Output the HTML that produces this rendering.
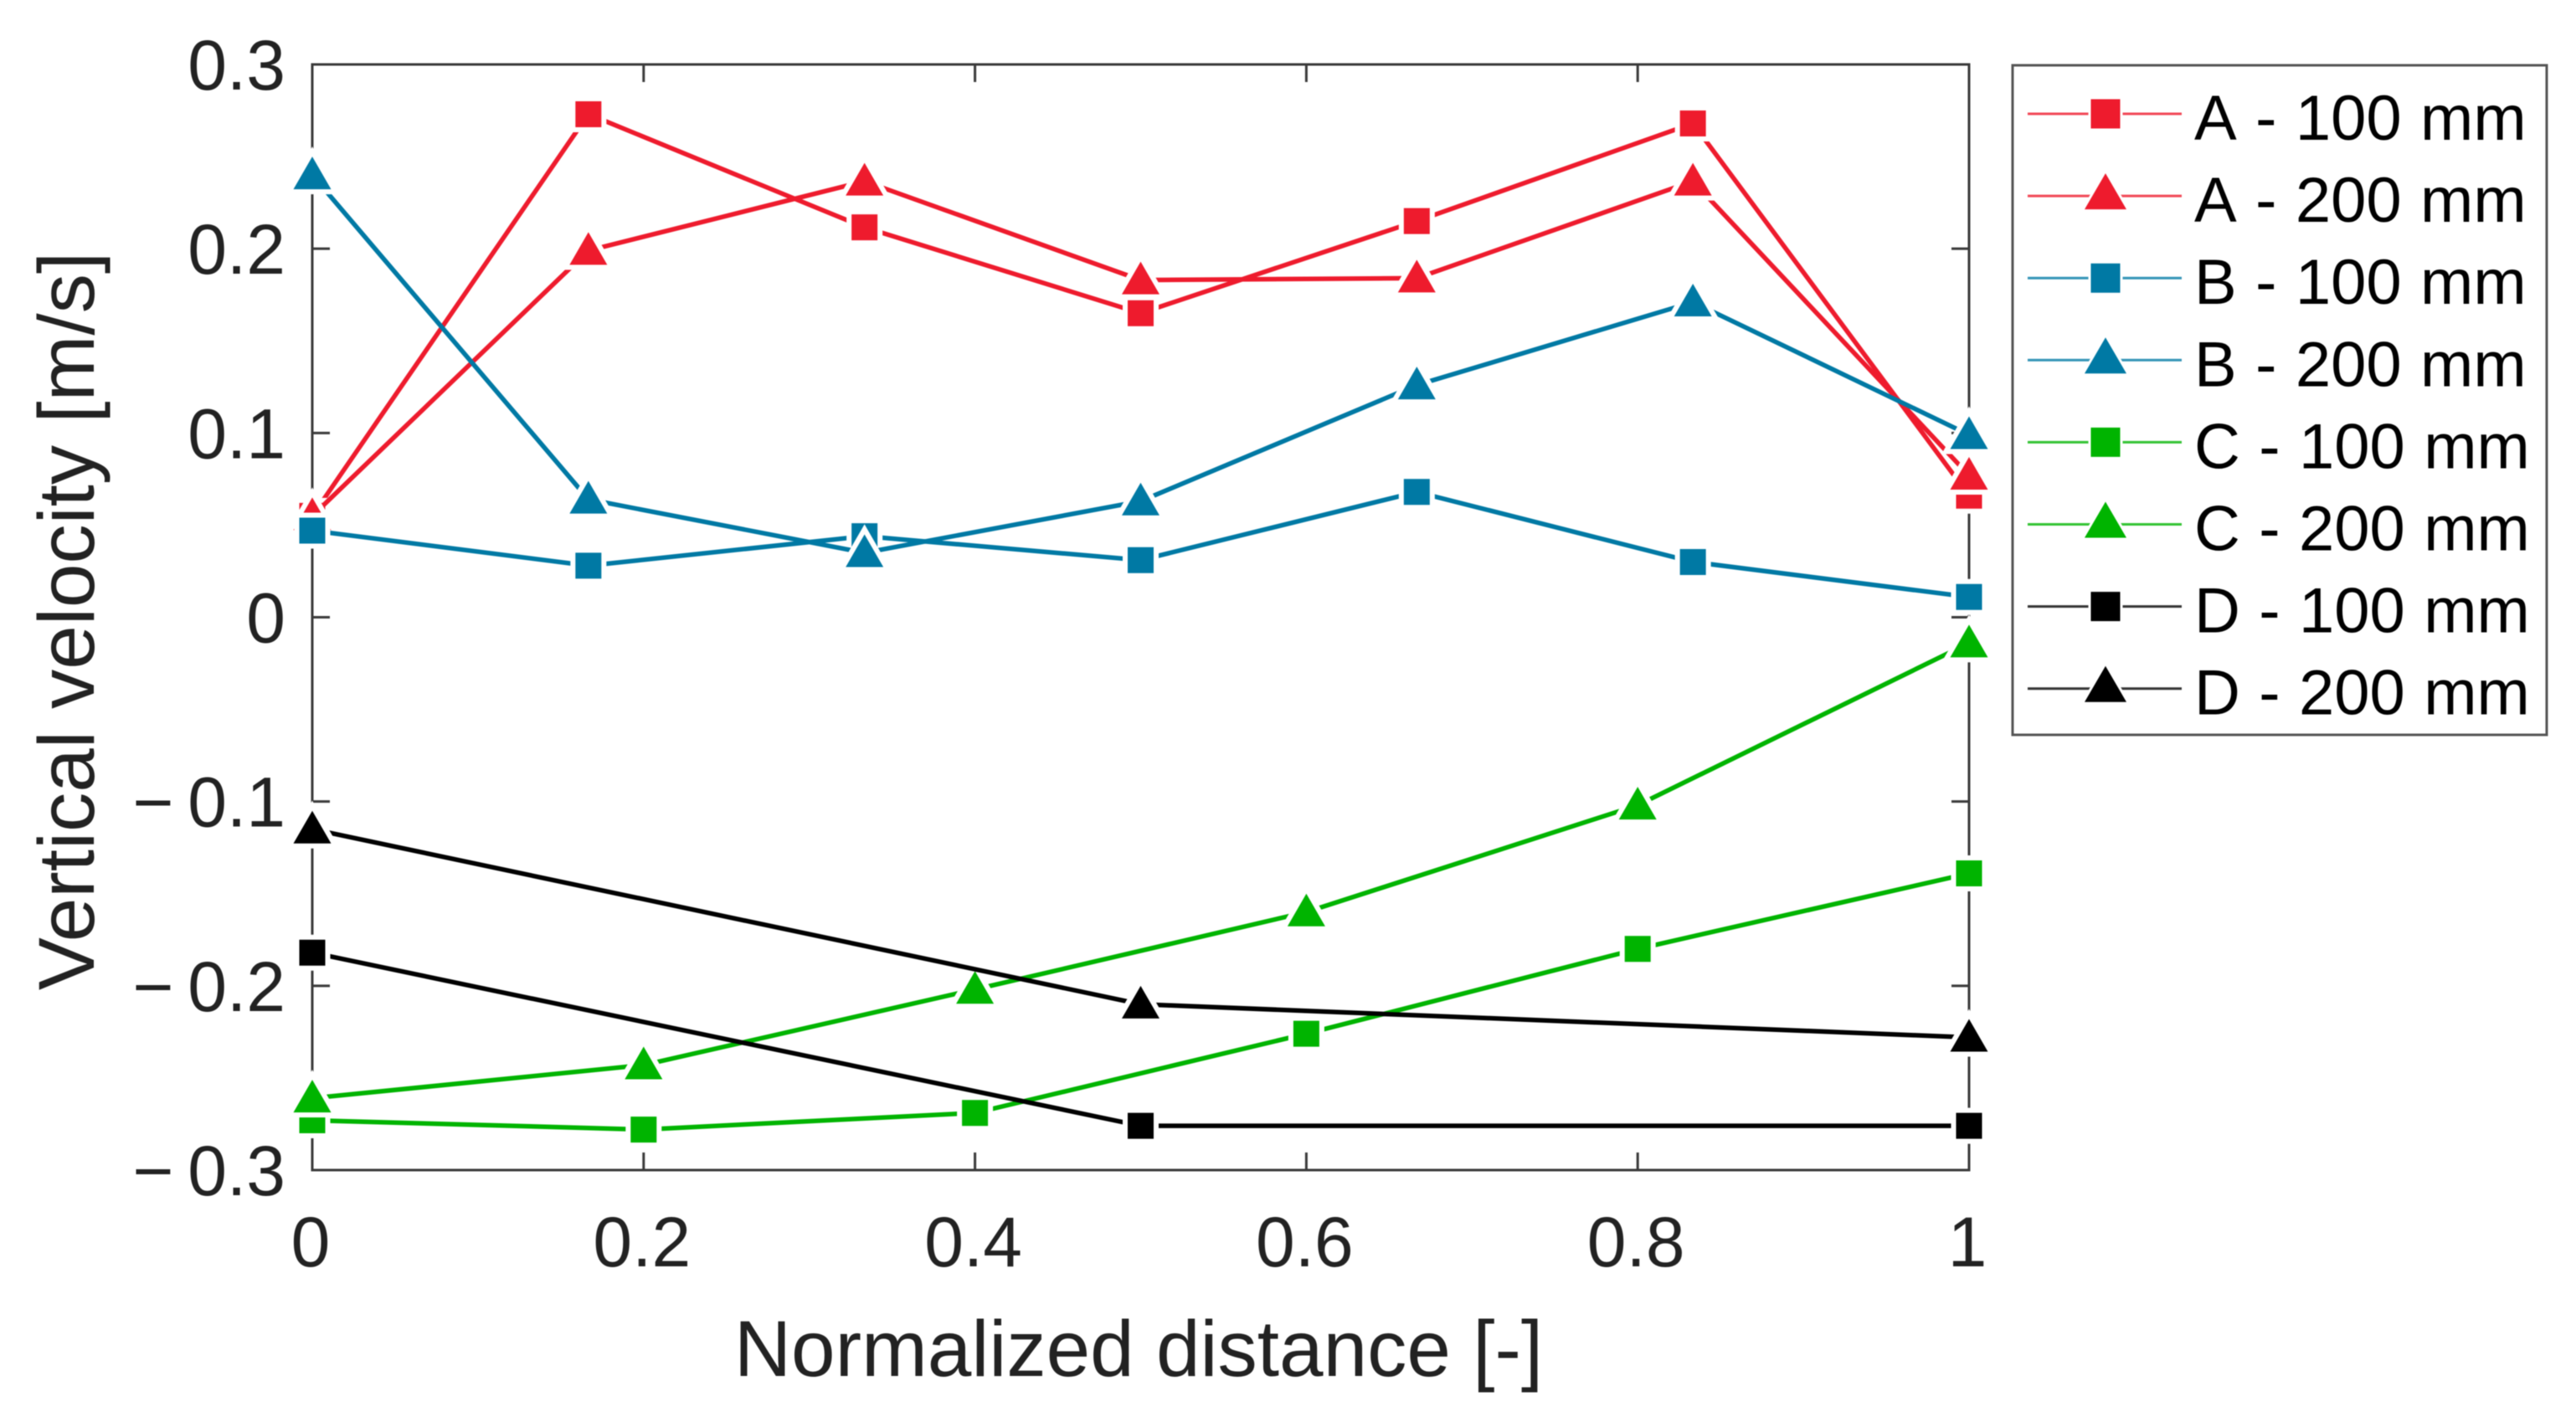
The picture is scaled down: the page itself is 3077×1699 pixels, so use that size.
<!DOCTYPE html>
<html lang="en">
<head>
<meta charset="utf-8">
<title>Vertical velocity vs normalized distance</title>
<style>
  html, body { margin: 0; padding: 0; background: #fff; }
  svg { display: block; filter: blur(0.6px); }
  text { font-family: "Liberation Sans", Arial, sans-serif; fill: #222222; }
</style>
</head>
<body>
<svg id="chart" xmlns="http://www.w3.org/2000/svg" width="3077" height="1699" viewBox="0 0 3077 1699">
  <rect x="0" y="0" width="3077" height="1699" fill="#ffffff"/>
  <g id="axes"></g>
  <g id="series"></g>
  <text x="1360" y="1644" font-size="94.5" text-anchor="middle">Normalized distance [-]</text>
  <text transform="translate(112 742) rotate(-90)" font-size="94.5" text-anchor="middle">Vertical velocity [m/s]</text>
  <g id="legend"></g>
</svg>
<script>
const xTicks = [0, 0.2, 0.4, 0.6, 0.8, 1];
const xTickLabels = ["0", "0.2", "0.4", "0.6", "0.8", "1"];
const yTicks = [-0.3, -0.2, -0.1, 0, 0.1, 0.2, 0.3];
const yTickLabels = ["\u2212\u20090.3", "\u2212\u20090.2", "\u2212\u20090.1", "0", "0.1", "0.2", "0.3"];

const xSixths = [0, 1/6, 1/3, 1/2, 2/3, 5/6, 1];
const xFifths = [0, 0.2, 0.4, 0.6, 0.8, 1];
const xHalves = [0, 0.5, 1];

const a100 = [0.055, 0.273, 0.2116, 0.165, 0.215, 0.268, 0.066];
const a200 = [0.055, 0.199, 0.2366, 0.183, 0.184, 0.2366, 0.077];
const b100 = [0.047, 0.028, 0.044, 0.031, 0.068, 0.030, 0.011];
const b200 = [0.240, 0.064, 0.035, 0.063, 0.126, 0.171, 0.099];
const c100 = [-0.273, -0.278, -0.269, -0.226, -0.180, -0.139];
const c200 = [-0.261, -0.243, -0.202, -0.160, -0.102, -0.014];
const d100 = [-0.182, -0.276, -0.276];
const d200 = [-0.115, -0.210, -0.228];

const seriesLabels = ["A - 100 mm", "A - 200 mm", "B - 100 mm", "B - 200 mm", "C - 100 mm", "C - 200 mm", "D - 100 mm", "D - 200 mm"];

const PLOT = { left: 373, right: 2352, top: 77, bottom: 1398 };
const X_MIN = 0, X_MAX = 1, Y_MIN = -0.3, Y_MAX = 0.3;
const RED = "#ee1b2d", BLUE = "#0079a4", GREEN = "#00b400", BLACK = "#000000";
const NS = "http://www.w3.org/2000/svg";

function xScale(v) { return PLOT.left + (v - X_MIN) / (X_MAX - X_MIN) * (PLOT.right - PLOT.left); }
function yScale(v) { return PLOT.bottom - (v - Y_MIN) / (Y_MAX - Y_MIN) * (PLOT.bottom - PLOT.top); }

function make(tag, attrs, parent) {
  const el = document.createElementNS(NS, tag);
  for (const k in attrs) el.setAttribute(k, attrs[k]);
  parent.appendChild(el);
  return el;
}

function squarePoints(cx, cy, half) {
  return [[cx - half, cy - half], [cx + half, cy - half], [cx + half, cy + half], [cx - half, cy + half]]
    .map(p => p.join(",")).join(" ");
}
function trianglePoints(cx, cy, halfW, up, down) {
  return [[cx, cy - up], [cx + halfW, cy + down], [cx - halfW, cy + down]]
    .map(p => p.join(",")).join(" ");
}

const axes = document.getElementById("axes");
const AXIS_COLOR = "#3a3a3a";

const frame = make("rect", { x: PLOT.left, y: PLOT.top, width: PLOT.right - PLOT.left, height: PLOT.bottom - PLOT.top, fill: "none", stroke: AXIS_COLOR, "stroke-width": 3 }, axes);



xTicks.forEach((t, i) => {
  const x = xScale(t);
  const bottomTick = make("line", { x1: x, x2: x, y1: PLOT.bottom, y2: PLOT.bottom - 21, stroke: AXIS_COLOR, "stroke-width": 3 }, axes);
  
  
  const topTick = make("line", { x1: x, x2: x, y1: PLOT.top, y2: PLOT.top + 21, stroke: AXIS_COLOR, "stroke-width": 3 }, axes);
  
  
  const label = make("text", { x: x - 2, y: 1513, "font-size": 84, "text-anchor": "middle" }, axes);
  label.textContent = xTickLabels[i];
  
  
});

yTicks.forEach((t, i) => {
  const y = yScale(t);
  const leftTick = make("line", { x1: PLOT.left, x2: PLOT.left + 21, y1: y, y2: y, stroke: AXIS_COLOR, "stroke-width": 3 }, axes);
  
  
  const rightTick = make("line", { x1: PLOT.right, x2: PLOT.right - 21, y1: y, y2: y, stroke: AXIS_COLOR, "stroke-width": 3 }, axes);
  
  
  const label = make("text", { x: 341, y: y + 30, "font-size": 84, "text-anchor": "end" }, axes);
  label.textContent = yTickLabels[i];
  
  
});

const seriesGroup = document.getElementById("series");

function drawSeries(name, xs, ys, color, shape) {
  const group = make("g", {}, seriesGroup);
  
  
  const pts = xs.map((x, i) => xScale(x) + "," + yScale(ys[i])).join(" ");
  const line = make("polyline", { points: pts, fill: "none", stroke: color, "stroke-width": 5.5 }, group);
  
  
  xs.forEach((x, i) => {
    const cx = xScale(x), cy = yScale(ys[i]);
    const points = shape === "square" ? squarePoints(cx, cy, 15.5) : trianglePoints(cx, cy, 22.5, 22, 17);
    const marker = make("polygon", { points: points, fill: color, stroke: "#ffffff", "stroke-width": 12, "stroke-linejoin": "miter", "paint-order": "stroke" }, group);
    
    
  });
}

drawSeries("series-a-100", xSixths, a100, RED, "square");
drawSeries("series-a-200", xSixths, a200, RED, "triangle");
drawSeries("series-b-100", xSixths, b100, BLUE, "square");
drawSeries("series-b-200", xSixths, b200, BLUE, "triangle");
drawSeries("series-c-100", xFifths, c100, GREEN, "square");
drawSeries("series-c-200", xFifths, c200, GREEN, "triangle");
drawSeries("series-d-100", xHalves, d100, BLACK, "square");
drawSeries("series-d-200", xHalves, d200, BLACK, "triangle");

const legend = document.getElementById("legend");
const legendBox = make("rect", { x: 2404, y: 78, width: 638, height: 800, fill: "#ffffff", stroke: "#555555", "stroke-width": 3 }, legend);



const legendColors = [RED, RED, BLUE, BLUE, GREEN, GREEN, BLACK, BLACK];
seriesLabels.forEach((text, i) => {
  const y = 136 + i * 98.1;
  const color = legendColors[i];
  const entry = make("g", {}, legend);
  
  
  const sample = make("line", { x1: 2422, x2: 2606, y1: y, y2: y, stroke: color, "stroke-width": 3, "stroke-opacity": 0.8 }, entry);
  
  
  const points = i % 2 === 0 ? squarePoints(2515, y, 17.5) : trianglePoints(2515, y, 25, 27, 16);
  const marker = make("polygon", { points: points, fill: color, stroke: "#ffffff", "stroke-width": 6, "stroke-linejoin": "miter", "paint-order": "stroke" }, entry);
  
  
  const label = make("text", { x: 2621, y: y + 31, "font-size": 76, fill: "#000000", "word-spacing": 1.3, style: "font-kerning:none;fill:#000000" }, entry);
  label.textContent = text;
  
  
});
</script>
</body>
</html>
